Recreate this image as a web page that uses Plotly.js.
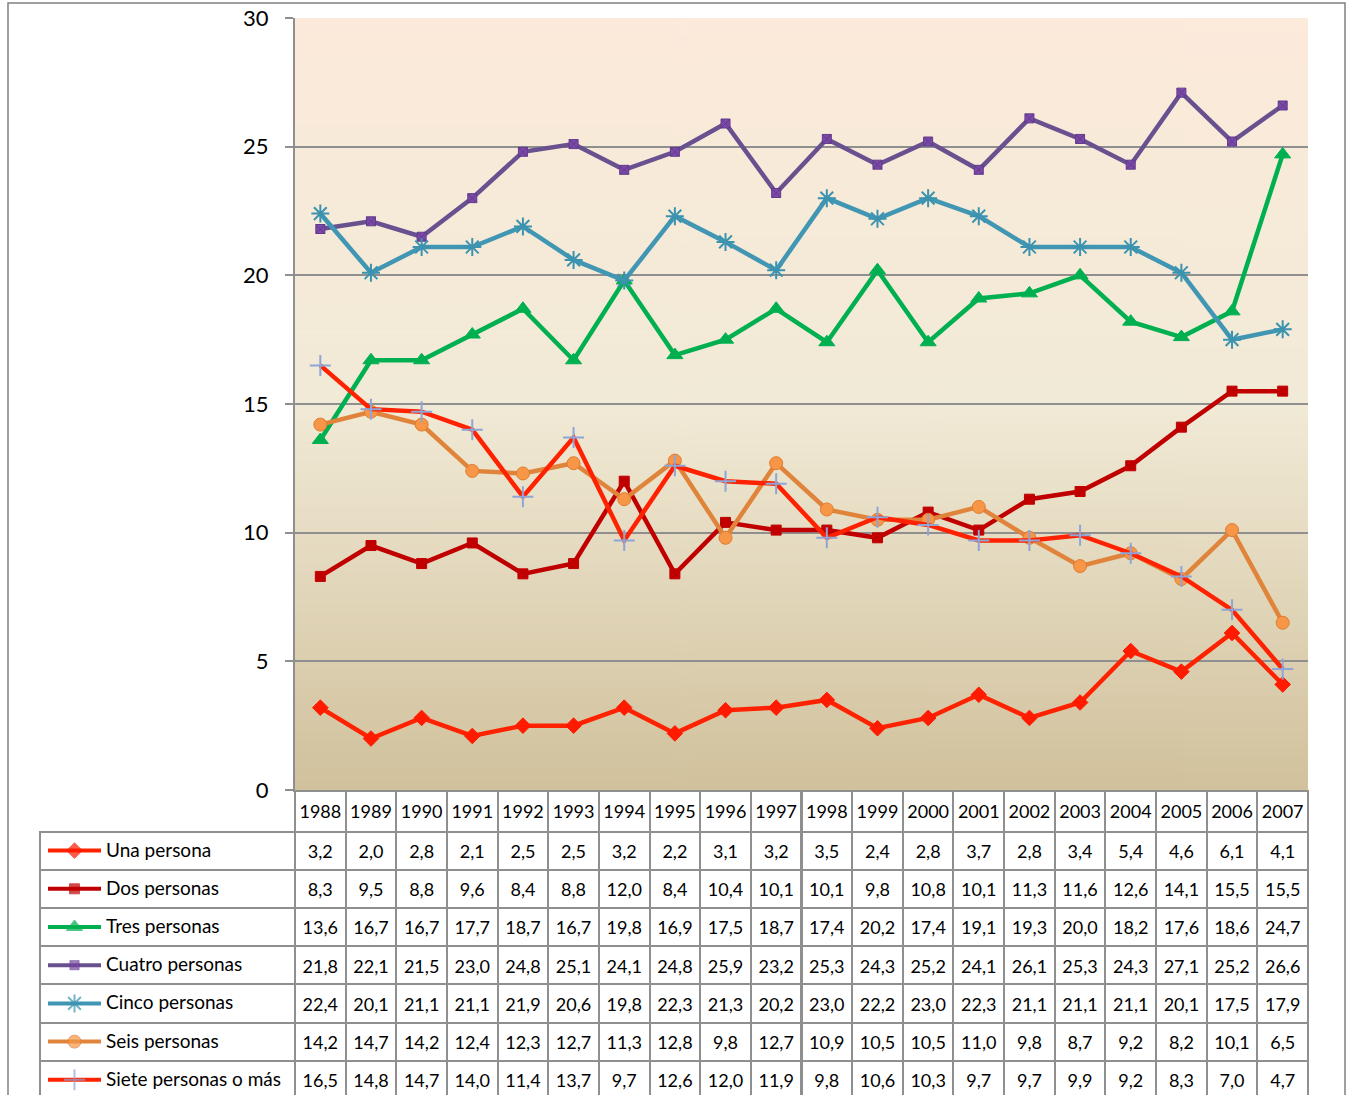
<!DOCTYPE html>
<html>
<head>
<meta charset="utf-8">
<script src="https://cdn.plot.ly/plotly-3.0.1.min.js"></script>
<style>
html,body{margin:0;padding:0;overflow:hidden;background:#fff;}
#chart{width:1346px;height:1110px;}
</style>
</head>
<body>
<div id="chart"></div>
<script>
// ---------- DATA ----------
const years = ['1988','1989','1990','1991','1992','1993','1994','1995','1996','1997',
               '1998','1999','2000','2001','2002','2003','2004','2005','2006','2007'];
const seriesNames = ['Una persona','Dos personas','Tres personas','Cuatro personas',
                     'Cinco personas','Seis personas','Siete personas o más'];
const una    = [3.2,2.0,2.8,2.1,2.5,2.5,3.2,2.2,3.1,3.2,3.5,2.4,2.8,3.7,2.8,3.4,5.4,4.6,6.1,4.1];
const dos    = [8.3,9.5,8.8,9.6,8.4,8.8,12.0,8.4,10.4,10.1,10.1,9.8,10.8,10.1,11.3,11.6,12.6,14.1,15.5,15.5];
const tres   = [13.6,16.7,16.7,17.7,18.7,16.7,19.8,16.9,17.5,18.7,17.4,20.2,17.4,19.1,19.3,20.0,18.2,17.6,18.6,24.7];
const cuatro = [21.8,22.1,21.5,23.0,24.8,25.1,24.1,24.8,25.9,23.2,25.3,24.3,25.2,24.1,26.1,25.3,24.3,27.1,25.2,26.6];
const cinco  = [22.4,20.1,21.1,21.1,21.9,20.6,19.8,22.3,21.3,20.2,23.0,22.2,23.0,22.3,21.1,21.1,21.1,20.1,17.5,17.9];
const seis   = [14.2,14.7,14.2,12.4,12.3,12.7,11.3,12.8,9.8,12.7,10.9,10.5,10.5,11.0,9.8,8.7,9.2,8.2,10.1,6.5];
const siete  = [16.5,14.8,14.7,14.0,11.4,13.7,9.7,12.6,12.0,11.9,9.8,10.6,10.3,9.7,9.7,9.9,9.2,8.3,7.0,4.7];
const allSeries = [una, dos, tres, cuatro, cinco, seis, siete];

// ---------- STYLES ----------
const styles = [
  {line:'#FF2200', marker:{symbol:'diamond', size:12, color:'#FF1A00', line:{color:'#FF1A00', width:1}}},
  {line:'#C00000', marker:{symbol:'square', size:10, color:'#C00000', line:{color:'#C00000', width:1}}},
  {line:'#00B050', marker:{symbol:'triangle-up', size:14, color:'#00B050', line:{color:'#00B050', width:1}}},
  {line:'#69518F', marker:{symbol:'square-x', size:9, color:'#7E48A8', line:{color:'#5E3C8C', width:1}}},
  {line:'#4197B3', marker:{symbol:'asterisk-open', size:15, color:'#3B93B0', line:{color:'#3B93B0', width:2}}},
  {line:'#E0843C', marker:{symbol:'circle', size:13, color:'#F79646', line:{color:'#E07C30', width:1}}},
  {line:'#FF2200', marker:{symbol:'cross-thin-open', size:15, color:'#8EA5D8', line:{color:'#8EA5D8', width:2}}}
];

// ---------- GEOMETRY ----------
const W = 1346, H = 1110;
const mL = 40, mR = 38, mT = 18, mB = 0;
const pw = W - mL - mR, ph = H - mT - mB;
const fx = px => (px - mL) / pw;
const fy = py => (H - mB - py) / ph;
const plotLeft = 295, plotBottom = 790;
const tableTop = 790.5, headerH = 41, rowH = 38.2;
const firstColW = plotLeft - mL, yearColW = (W - mR - plotLeft) / years.length;
const fontFam = 'Lato, "Open Sans", sans-serif';

// gradient background image
const cv = document.createElement('canvas');
cv.width = 4; cv.height = 400;
const ctx = cv.getContext('2d');
const g = ctx.createLinearGradient(0,0,0,400);
g.addColorStop(0, '#FCEADB');
g.addColorStop(0.5, '#F1EAD6');
g.addColorStop(1, '#D1C19C');
ctx.fillStyle = g; ctx.fillRect(0,0,4,400);
const bgURL = cv.toDataURL('image/png');

const fmt = v => v.toFixed(1).replace('.', ',');

const traces = [];
allSeries.forEach((s, i) => {
  traces.push({
    type:'scatter', mode:'lines+markers', x: years, y: s, name: seriesNames[i],
    line:{color: styles[i].line, width:4.5},
    marker: styles[i].marker, cliponaxis:false, showlegend:false, hoverinfo:'skip'
  });
});
// legend keys inside the table's first column
allSeries.forEach((s, i) => {
  const m = JSON.parse(JSON.stringify(styles[i].marker));
  m.size = [0, m.size, 0];
  traces.push({
    type:'scatter', mode:'lines+markers', x:[0,0.5,1], y:[i,i,i],
    xaxis:'x2', yaxis:'y2', line:{color: styles[i].line, width:4},
    marker: m, cliponaxis:false, showlegend:false, hoverinfo:'skip'
  });
});

// table grid (borders only)
const colWidths = [firstColW].concat(years.map(() => yearColW));
const gridLineColors = ['rgba(0,0,0,0)'].concat(years.map(() => '#8F8F8F'));
traces.push({
  type:'table',
  domain:{x:[0,1], y:[0, fy(tableTop)]},
  columnwidth: colWidths,
  header:{values: [''].concat(years.map(() => '')), height: headerH,
          font:{family: fontFam, size:18, color:'#000'},
          fill:{color:'rgba(0,0,0,0)'}, line:{color: gridLineColors, width:2}},
  cells:{values: colWidths.map(() => seriesNames.map(() => '')), height: rowH,
         font:{family: fontFam, size:18, color:'#000'},
         fill:{color:'rgba(0,0,0,0)'}, line:{color:'#8F8F8F', width:2}}
});
// table text (offset so the top-aligned text sits in the middle of each cell)
const textShift = 6;
traces.push({
  type:'table',
  domain:{x:[0,1], y:[0, fy(tableTop + textShift)]},
  columnwidth: colWidths,
  header:{values: [''].concat(years), height: headerH - 1, align:'center',
          font:{family: fontFam, size:18, color:'#000'},
          fill:{color:'rgba(0,0,0,0)'}, line:{color:'rgba(0,0,0,0)', width:0}},
  cells:{values: [seriesNames.map(() => '')].concat(years.map((y, j) => allSeries.map(s => fmt(s[j])))),
         height: rowH, align:'center',
         font:{family: fontFam, size:18, color:'#000'},
         fill:{color:'rgba(0,0,0,0)'}, line:{color:'rgba(0,0,0,0)', width:0}}
});

const annotations = seriesNames.map((n, i) => ({
  xref:'paper', yref:'paper', x: fx(104), y: fy(tableTop + headerH + rowH*(i+0.5) - 1.5),
  xanchor:'left', yanchor:'middle', text: n, showarrow:false,
  font:{family: fontFam, size:19, color:'#000'}
}));

const layout = {
  width: W, height: H,
  margin:{l:mL, r:mR, t:mT, b:mB, pad:0},
  paper_bgcolor:'#FFFFFF', plot_bgcolor:'rgba(0,0,0,0)',
  showlegend:false,
  font:{family: fontFam, color:'#000'},
  xaxis:{type:'category', domain:[fx(plotLeft), 1], range:[-0.5, years.length-0.5],
         showticklabels:false, ticks:'', showgrid:false, zeroline:false,
         showline:true, linecolor:'#8F8F8F', linewidth:2, fixedrange:true},
  yaxis:{domain:[fy(plotBottom), 1], range:[0,30], dtick:5, tick0:0,
         ticks:'outside', ticklen:8, tickwidth:2, tickcolor:'#8F8F8F',
         showgrid:true, gridcolor:'#8F8F8F', gridwidth:2, zeroline:false,
         showline:true, linecolor:'#8F8F8F', linewidth:2,
         tickfont:{family: fontFam, size:22, color:'#000'}, ticklabelstandoff:12, fixedrange:true},
  xaxis2:{domain:[fx(48), fx(101)], range:[0,1], visible:false, fixedrange:true},
  yaxis2:{domain:[fy(tableTop + headerH + rowH*7), fy(tableTop + headerH)],
          range:[6.5,-0.5], visible:false, fixedrange:true},
  images:[{source: bgURL, xref:'x domain', yref:'y domain', x:0, y:1, sizex:1, sizey:1,
           xanchor:'left', yanchor:'top', sizing:'stretch', layer:'below'}],
  shapes:[{type:'rect', xref:'paper', yref:'paper', x0: fx(8), x1: fx(1345), y0: fy(1130), y1: fy(3),
           line:{color:'#808080', width:1.5}, fillcolor:'rgba(0,0,0,0)', layer:'below'}],
  annotations: annotations
};

Plotly.newPlot('chart', traces, layout, {displayModeBar:false, staticPlot:true});
</script>
</body>
</html>
